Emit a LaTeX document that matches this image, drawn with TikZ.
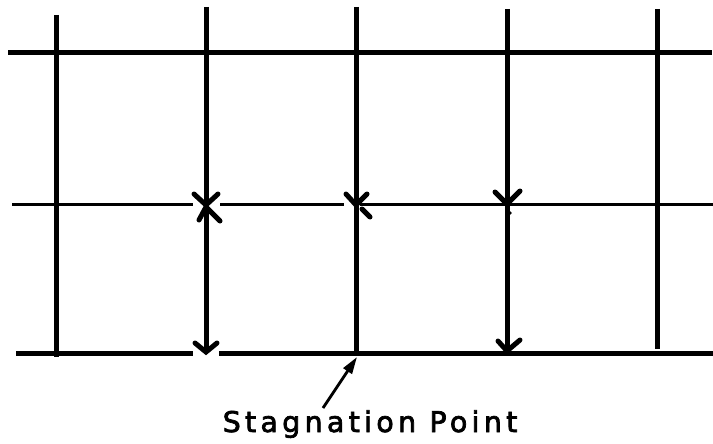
\documentclass[tikz,border=0pt]{standalone}
\usepackage{fontspec}
\newfontfamily\handfont[LetterSpace=15,FakeBold=2.5]{DejaVu Sans}
\usetikzlibrary{arrows.meta}
\tikzset{
  thickline/.style={line width=5pt},
  midline/.style={line width=3pt},
  arm/.style={line width=5pt, line cap=round},
  pointer/.style={line width=2.8pt, -{Triangle[length=17pt,width=10pt]}},
}
\begin{document}
\begin{tikzpicture}[x={(1pt,0)}, y={(0,-1pt)}]
\useasboundingbox (0,0) rectangle (713,444);
% horizontal lines
\draw[thickline] (8,53) -- (712,53);
\draw[midline] (12,204) -- (193,204);
\draw[midline] (220,204) -- (344,204);
\draw[midline] (360,204) -- (713,204);
\draw[thickline] (16,353) -- (193,353);
\draw[thickline] (219,353) -- (713,353);
% vertical lines
\draw[thickline] (56,15) -- (56,357);
\draw[thickline] (206,7) -- (206,351);
\draw[thickline] (356,7) -- (356,355);
\draw[thickline] (507,9) -- (507,350);
\draw[thickline] (657,9) -- (657,349);
% arrow marks, middle row
\draw[arm] (194,194) -- (206,205) -- (218,194);
\draw[arm] (199,220) -- (206,207) -- (220,221);
\draw[arm] (346,194) -- (356,205) -- (367,194);
\draw[arm] (362,209) -- (370,217);
\draw[arm] (495,192) -- (507,204) -- (520,191);
\fill (510,213) circle (1.8);
% arrow marks, bottom row
\draw[arm] (195,343) -- (206,352) -- (217,343);
\draw[arm] (498,341) -- (507,351) -- (520,340);
% label
\coordinate (stag) at (357,357);
\coordinate (tail) at (323,408);
\node[font=\handfont\fontsize{28.5}{32}\selectfont, anchor=base, inner sep=0pt] (label) at (370,432) {Stagnation Point};
\draw[pointer] (tail) -- (stag);
\end{tikzpicture}
\end{document}
